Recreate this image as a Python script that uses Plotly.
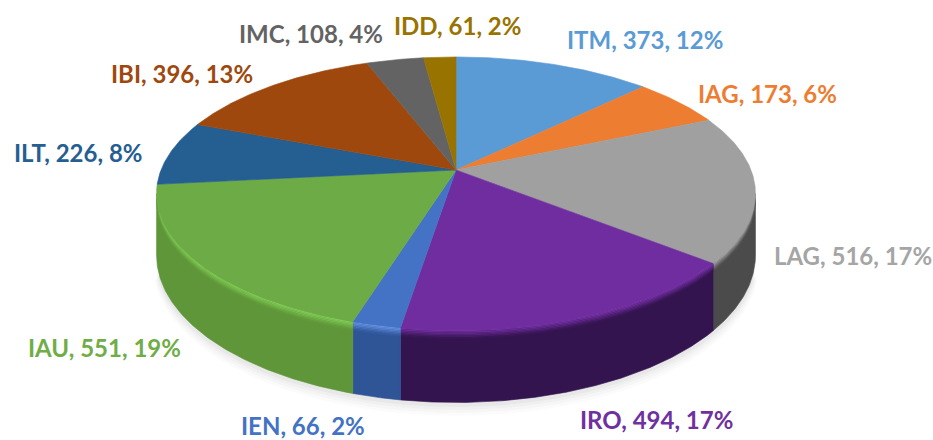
import math
import plotly.graph_objects as go

categories = ["ITM", "IAG", "LAG", "IRO", "IEN", "IAU", "ILT", "IBI", "IMC", "IDD"]
values = [373, 173, 516, 494, 66, 551, 226, 396, 108, 61]
percent_labels = ["12%", "6%", "17%", "17%", "2%", "19%", "8%", "13%", "4%", "2%"]
top_colors = ["#5B9BD5", "#ED7D31", "#A0A0A0", "#6F2DA0", "#4472C4", "#6CAB45", "#255E91", "#9E480E", "#636363", "#997300"]
side_colors = ["#3A6F9E", "#B05A20", "#4B4B4B", "#33144F", "#2F5597", "#5F9639", "#1B4569", "#6E320A", "#444444", "#6B5000"]
rim_colors = ["#8FC0EA", "#F9A86E", "#B0B0B0", "#7E35B0", "#6C9BEE", "#86D45A", "#3B7DB8", "#C4682A", "#8A8A8A", "#BF9410"]

W, H = 933, 440
CX, CY, RX, RY, K, DEPTH = 456, 170, 295, 132.5, 0.172, 60

LABEL_POS = [(645, 39), (767, 93), (853, 255), (656, 419), (303, 425),
             (104, 347), (78, 152), (182, 73), (311, 33), (457, 25)]
LABEL_COLORS = ["#5B9BD5", "#ED7D31", "#A5A5A5", "#7030A0", "#4472C4",
                "#70AD47", "#255E91", "#9E480E", "#636363", "#997300"]


def mix(c0, c1, t):
    a = [int(c0[i:i + 2], 16) for i in (1, 3, 5)]
    b = [int(c1[i:i + 2], 16) for i in (1, 3, 5)]
    return "#%02X%02X%02X" % tuple(round(p + (q - p) * t) for p, q in zip(a, b))


def project(theta, r=1.0, drop=0.0):
    """theta clockwise from the back of the disc; drop = depth below the top face."""
    u, v = r * math.sin(theta), r * math.cos(theta)
    w = 1 + K * v
    return CX + RX * u / w, CY - RY * v / w + drop / w


def arc(a0, a1, r=1.0, drop=0.0, step=math.radians(0.5)):
    n = max(2, int(abs(a1 - a0) / step) + 1)
    pts = [project(a0 + (a1 - a0) * i / (n - 1), r, drop) for i in range(n)]
    return [p[0] for p in pts], [p[1] for p in pts]


def poly(fig, xs, ys, color, opacity=1.0, line=0.6):
    fig.add_trace(go.Scatter(x=xs + xs[:1], y=ys + ys[:1], mode="lines", fill="toself",
                             fillcolor=color, opacity=opacity, hoverinfo="skip",
                             line=dict(color=color, width=line), showlegend=False))


total = sum(values)
edges = [0.0]
for v in values:
    edges.append(edges[-1] + v / total * 2 * math.pi)

fig = go.Figure()

# soft shadow under the front of the pie
vis0 = math.acos(-K)
vis1 = 2 * math.pi - vis0
for dr, op in [(9, 0.03), (7, 0.04), (5, 0.05), (3, 0.07)]:
    x1, y1 = arc(vis0 + 0.1, vis1 - 0.1, 1.0 + dr * 0.0012, DEPTH + dr)
    poly(fig, x1, y1, "#808080", op, 0)

# side wall, restricted to the visible front arc; the top of the wall fades rim -> side
STEPS = 6
for i in range(len(values)):
    a0, a1 = max(edges[i], vis0), min(edges[i + 1], vis1)
    if a1 <= a0:
        continue
    xa, ya = arc(a0, a1, 1.0, 0)
    xb, yb = arc(a0, a1, 1.0, DEPTH)
    poly(fig, xa + xb[::-1], ya + yb[::-1], side_colors[i])
    for s in range(STEPS):
        f0, f1 = s * 0.02, (s + 1) * 0.02
        xa, ya = arc(a0, a1, 1.0, DEPTH * f0)
        xb, yb = arc(a0, a1, 1.0, DEPTH * f1)
        poly(fig, xa + xb[::-1], ya + yb[::-1], mix(rim_colors[i], side_colors[i], (s + 0.5) / STEPS), 1.0, 0.3)

# top face
for i in range(len(values)):
    xa, ya = arc(edges[i], edges[i + 1])
    cx, cy = project(0, 0)
    poly(fig, [cx] + xa, [cy] + ya, top_colors[i])

annotations = [
    dict(x=LABEL_POS[i][0], y=LABEL_POS[i][1], xref="x", yref="y", showarrow=False,
         text=f"<b>{categories[i]}, {values[i]}, {percent_labels[i]}</b>",
         font=dict(family="Lato, Carlito, sans-serif", size=24, color=LABEL_COLORS[i]))
    for i in range(len(values))
]

fig.update_layout(
    width=W, height=H, margin=dict(l=0, r=0, t=0, b=0),
    paper_bgcolor="white", plot_bgcolor="white", showlegend=False,
    xaxis=dict(range=[0, W], visible=False, fixedrange=True),
    yaxis=dict(range=[H, 0], visible=False, fixedrange=True),
    annotations=annotations,
)
fig.write_html("out.html", config={"displayModeBar": False},
               post_script="document.body.style.margin='0';document.body.style.overflow='hidden';")
